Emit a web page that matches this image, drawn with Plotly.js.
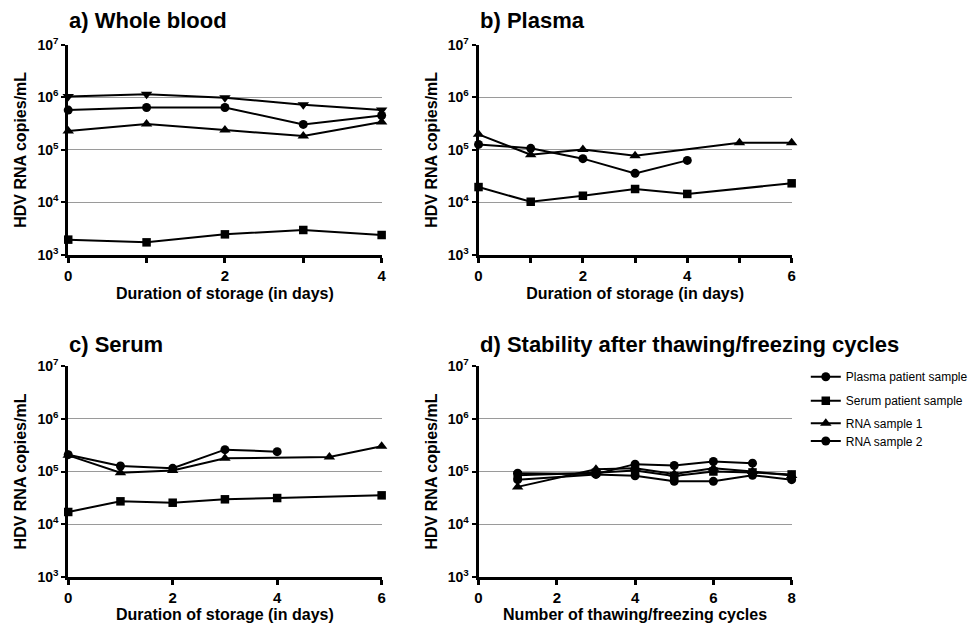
<!DOCTYPE html>
<html>
<head>
<meta charset="utf-8">
<script src="https://cdn.plot.ly/plotly-3.0.1.min.js"></script>
<style>html,body{margin:0;padding:0;background:#fff;}#chart{width:973px;height:630px;}</style>
</head>
<body>
<div id="chart"></div>
<script>
// ---------- data ----------
const yTickVals = [1e3, 1e4, 1e5, 1e6, 1e7];
const yTickText = ['10<sup>3</sup>', '10<sup>4</sup>', '10<sup>5</sup>', '10<sup>6</sup>', '10<sup>7</sup>'];

// a) Whole blood
const wbDays = [0, 1, 2, 3, 4];
const wbTriDown = [1.03e6, 1.14e6, 0.98e6, 7.2e5, 5.7e5];
const wbCircle = [5.7e5, 6.4e5, 6.4e5, 3.05e5, 4.5e5];
const wbTriUp = [2.28e5, 3.1e5, 2.38e5, 1.83e5, 3.38e5];
const wbSquare = [1.96e3, 1.74e3, 2.47e3, 2.99e3, 2.4e3];

// b) Plasma
const plTriDays = [0, 1, 2, 3, 5, 6];
const plTri = [1.97e5, 8.1e4, 1.02e5, 7.7e4, 1.37e5, 1.37e5];
const plCircDays = [0, 1, 2, 3, 4];
const plCirc = [1.27e5, 1.07e5, 6.8e4, 3.57e4, 6.3e4];
const plSqDays = [0, 1, 2, 3, 4, 6];
const plSq = [1.96e4, 1.03e4, 1.34e4, 1.8e4, 1.45e4, 2.31e4];

// c) Serum
const seCircDays = [0, 1, 2, 3, 4];
const seCirc = [2.09e5, 1.27e5, 1.15e5, 2.6e5, 2.38e5];
const seTriDays = [0, 1, 2, 3, 5, 6];
const seTri = [2.03e5, 9.5e4, 1.05e5, 1.78e5, 1.89e5, 3.01e5];
const seSqDays = [0, 1, 2, 3, 4, 6];
const seSq = [1.7e4, 2.71e4, 2.55e4, 2.96e4, 3.13e4, 3.52e4];

// d) Thawing/freezing cycles
const cycPlasmaX = [1, 3, 4, 5, 6, 7];
const cycPlasma = [9.3e4, 9.0e4, 1.38e5, 1.3e5, 1.55e5, 1.44e5];
const cycX = [1, 3, 4, 5, 6, 7, 8];
const cycSerum = [8.5e4, 9.5e4, 1.05e5, 8.2e4, 1.0e5, 9.6e4, 8.8e4];
const cycRna1 = [5.1e4, 1.1e5, 1.15e5, 9.0e4, 1.15e5, 1.0e5, 8.4e4];
const cycRna2 = [7.0e4, 8.8e4, 8.3e4, 6.5e4, 6.5e4, 8.5e4, 7.0e4];

const legendNames = ['Plasma patient sample', 'Serum patient sample', 'RNA sample 1', 'RNA sample 2'];
const panelTitles = ['a) Whole blood', 'b) Plasma', 'c) Serum', 'd) Stability after thawing/freezing cycles'];
const xTitles = ['Duration of storage (in days)', 'Duration of storage (in days)', 'Duration of storage (in days)', 'Number of thawing/freezing cycles'];
const yTitle = 'HDV RNA copies/mL';

// ---------- styling ----------
const FONT = 'Arial, "Liberation Sans", Helvetica, sans-serif';
const W = 973, H = 630;
const symSize = {'circle': 9, 'square': 8.5, 'triangle-up': 10, 'triangle-down': 10};

function tr(x, y, sym, xa, ya, extra) {
  return Object.assign({
    x: x, y: y, xaxis: xa, yaxis: ya, type: 'scatter', mode: 'lines+markers',
    line: {color: '#000', width: 2},
    marker: {symbol: sym, color: '#000', size: symSize[sym]},
    cliponaxis: false, showlegend: false, hoverinfo: 'x+y'
  }, extra || {});
}

const data = [
  tr(wbDays, wbTriDown, 'triangle-down', 'x', 'y'),
  tr(wbDays, wbCircle, 'circle', 'x', 'y'),
  tr(wbDays, wbTriUp, 'triangle-up', 'x', 'y'),
  tr(wbDays, wbSquare, 'square', 'x', 'y'),

  tr(plTriDays, plTri, 'triangle-up', 'x2', 'y2'),
  tr(plCircDays, plCirc, 'circle', 'x2', 'y2'),
  tr(plSqDays, plSq, 'square', 'x2', 'y2'),

  tr(seCircDays, seCirc, 'circle', 'x3', 'y3'),
  tr(seTriDays, seTri, 'triangle-up', 'x3', 'y3'),
  tr(seSqDays, seSq, 'square', 'x3', 'y3'),

  tr(cycPlasmaX, cycPlasma, 'circle', 'x4', 'y4', {name: legendNames[0], showlegend: true, legend: 'legend'}),
  tr(cycX, cycSerum, 'square', 'x4', 'y4', {name: legendNames[1], showlegend: true, legend: 'legend2'}),
  tr(cycX, cycRna1, 'triangle-up', 'x4', 'y4', {name: legendNames[2], showlegend: true, legend: 'legend3'}),
  tr(cycX, cycRna2, 'circle', 'x4', 'y4', {name: legendNames[3], showlegend: true, legend: 'legend4'})
];

// pixel boxes of the four plot areas
const boxes = [
  {l: 69, r: 386, t: 44.7, b: 255, xr: [0, 4], minor: true, dt: 2, tg: 24.2},
  {l: 484, r: 800.7, t: 44.7, b: 255, xr: [0, 6], minor: true, dt: 2, tg: 24.2},
  {l: 69, r: 386, t: 366.3, b: 576.7, xr: [0, 6], minor: false, dt: 2, tg: 21.5},
  {l: 484, r: 800.7, t: 366.3, b: 576.7, xr: [0, 8], minor: false, dt: 2, tg: 21.5}
];

const layout = {
  width: W, height: H,
  margin: {l: 0, r: 0, t: 0, b: 0},
  paper_bgcolor: '#fff', plot_bgcolor: '#fff',
  font: {family: FONT, size: 14, color: '#000'},
  annotations: [],
  hovermode: false
};

boxes.forEach((b, i) => {
  const n = i === 0 ? '' : String(i + 1);
  const xa = {
    domain: [b.l / W, b.r / W], anchor: 'y' + n, range: b.xr,
    tick0: 0, dtick: b.dt, ticks: 'outside', ticklen: 5, tickwidth: 3, tickcolor: '#000',
    showline: true, linecolor: '#000', linewidth: 3, showgrid: false, zeroline: false,
    tickfont: {family: FONT, size: 15, color: '#000', weight: 'bold'},
    title: {text: xTitles[i], font: {family: FONT, size: 16, color: '#000', weight: 'bold'}, standoff: 5}
  };
  if (b.minor) xa.minor = {dtick: 1, tick0: 0, ticks: 'outside', ticklen: 5, tickwidth: 3, tickcolor: '#000', showgrid: false};
  const ya = {
    domain: [1 - b.b / H, 1 - b.t / H], anchor: 'x' + n, type: 'log', range: [3, 7],
    tickvals: yTickVals, ticktext: yTickText,
    ticks: 'outside', ticklen: 4, tickwidth: 2, tickcolor: '#000',
    showline: true, linecolor: '#000', linewidth: 3, zeroline: false,
    showgrid: true, gridcolor: '#9a9a9a', gridwidth: 1,
    tickfont: {family: FONT, size: 14, color: '#000', weight: 'bold'},
    title: {text: yTitle, font: {family: FONT, size: 16, color: '#000', weight: 'bold'}, standoff: 7}
  };
  layout['xaxis' + n] = xa;
  layout['yaxis' + n] = ya;
  layout.annotations.push({
    text: panelTitles[i], xref: 'paper', yref: 'paper',
    x: (b.l - 1) / W, xanchor: 'left', y: 1 - (b.t - b.tg) / H, yanchor: 'middle',
    showarrow: false, font: {family: FONT, size: 22, color: '#000', weight: 'bold'}
  });
});

const legendY = [376.7, 400.7, 423.3, 441];
['legend', 'legend2', 'legend3', 'legend4'].forEach((k, i) => {
  layout[k] = {
    x: 815 / W, xanchor: 'left', y: 1 - legendY[i] / H, yanchor: 'middle',
    bgcolor: 'rgba(0,0,0,0)', borderwidth: 0,
    font: {family: FONT, size: 12, color: '#000'}
  };
});

Plotly.newPlot('chart', data, layout, {staticPlot: true, displayModeBar: false});
</script>
</body>
</html>
